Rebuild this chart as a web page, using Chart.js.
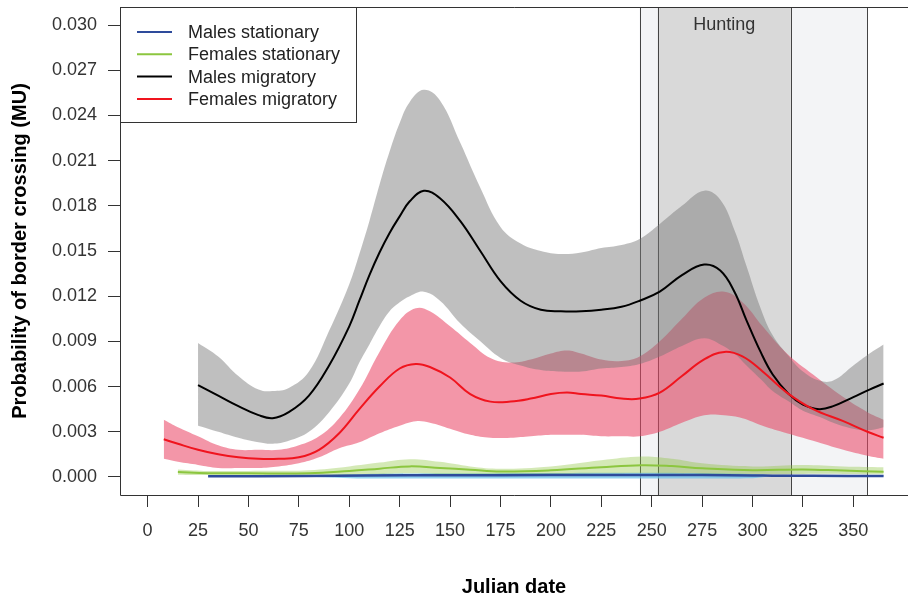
<!DOCTYPE html>
<html><head><meta charset="utf-8">
<script src="https://cdn.jsdelivr.net/npm/chart.js@4.4.1/dist/chart.umd.min.js"></script>
<style>html,body{margin:0;padding:0;background:#fff;overflow:hidden}#wrap{width:908px;height:600px}</style>
</head><body><div id="wrap"><canvas id="c" width="908" height="600"></canvas></div>
<script>
// ---- tick labels / annotations ----
const xTicks = [0,25,50,75,100,125,150,175,200,225,250,275,300,325,350];
const yTicks = [0,0.003,0.006,0.009,0.012,0.015,0.018,0.021,0.024,0.027,0.030];
const huntingDays = [244,253,319,357];
const huntingLabel = 'Hunting';
const xTitle = 'Julian date';
const yTitle = 'Probability of border crossing (MU)';
const seriesNames = ['Males stationary','Females stationary','Males migratory','Females migratory'];

// ---- Males migratory ----
const mmDays  = [25,35,45,55,62,70,80,90,100,105,110,115,120,125,130,137,145,155,165,175,185,195,205,215,225,235,244,254,265,276,284,291,297,304,310,318,325,333,340,350,358,365];
const mmFit   = [0.0061,0.0054,0.0047,0.0041,0.0039,0.0043,0.0054,0.0074,0.0100,0.0117,0.0134,0.0149,0.0162,0.0173,0.0183,0.0190,0.0185,0.0170,0.0150,0.0130,0.0117,0.0111,0.0110,0.0110,0.0111,0.0113,0.0117,0.0123,0.0134,0.0141,0.0137,0.0123,0.0104,0.0083,0.0068,0.0055,0.0048,0.0045,0.0047,0.0053,0.0058,0.0062];
const mmUpper = [0.0089,0.0080,0.0067,0.0058,0.0057,0.0059,0.0070,0.0097,0.0128,0.0148,0.0170,0.0194,0.0216,0.0235,0.0249,0.0257,0.0250,0.0222,0.0192,0.0166,0.0155,0.0150,0.0148,0.0149,0.0152,0.0154,0.0158,0.0168,0.0180,0.0190,0.0184,0.0164,0.0140,0.0112,0.0094,0.0080,0.0070,0.0064,0.0064,0.0074,0.0082,0.0088];
const mmLower = [0.0034,0.0030,0.0026,0.0023,0.0022,0.0024,0.0030,0.0043,0.0062,0.0076,0.0088,0.0100,0.0110,0.0116,0.0120,0.0123,0.0117,0.0102,0.0090,0.0079,0.0074,0.0071,0.0070,0.0070,0.0072,0.0073,0.0075,0.0080,0.0087,0.0092,0.0088,0.0082,0.0074,0.0065,0.0057,0.0050,0.0044,0.0040,0.0036,0.0032,0.0031,0.0033];

// ---- Females migratory ----
const fmDays  = [8,15,25,35,45,55,65,75,85,95,105,115,125,133,140,150,160,170,180,190,200,208,215,225,235,244,254,265,276,286,295,305,317,330,345,357,365];
const fmFit   = [0.0025,0.0022,0.0018,0.0015,0.0013,0.0012,0.0012,0.0013,0.0018,0.0029,0.0045,0.0060,0.0072,0.0075,0.0073,0.0066,0.0055,0.0050,0.0050,0.0052,0.0055,0.0056,0.0055,0.0054,0.0052,0.0052,0.0056,0.0067,0.0078,0.0083,0.0080,0.0070,0.0056,0.0045,0.0037,0.0030,0.0026];
const fmUpper = [0.0038,0.0033,0.0027,0.0021,0.0018,0.0018,0.0018,0.0021,0.0027,0.0039,0.0058,0.0083,0.0104,0.0112,0.0110,0.0100,0.0089,0.0079,0.0076,0.0078,0.0082,0.0084,0.0082,0.0078,0.0077,0.0080,0.0090,0.0105,0.0119,0.0123,0.0116,0.0100,0.0082,0.0068,0.0053,0.0043,0.0038];
const fmLower = [0.0012,0.0010,0.0008,0.0006,0.0006,0.0006,0.0007,0.0009,0.0013,0.0019,0.0023,0.0029,0.0034,0.0037,0.0036,0.0032,0.0028,0.0026,0.0026,0.0027,0.0028,0.0028,0.0028,0.0027,0.0027,0.0027,0.0030,0.0036,0.0041,0.0041,0.0039,0.0034,0.0029,0.0024,0.0018,0.0014,0.0012];

// ---- Females stationary ----
const fsDays  = [15,30,50,80,100,115,130,145,160,175,200,225,245,260,275,300,325,345,365];
const fsFit   = [0.00033,0.00025,0.00024,0.00025,0.00040,0.00055,0.00070,0.00060,0.00048,0.00036,0.00044,0.00065,0.00078,0.00072,0.00058,0.00045,0.00050,0.00042,0.00035];
const fsUpper = [0.00050,0.00040,0.00040,0.00045,0.00070,0.00095,0.00118,0.00100,0.00070,0.00055,0.00070,0.00110,0.00135,0.00120,0.00090,0.00070,0.00080,0.00070,0.00065];
const fsLower = [0.00015,0.00012,0.00010,0.00010,0.00015,0.00020,0.00025,0.00020,0.00018,0.00015,0.00018,0.00022,0.00025,0.00022,0.00020,0.00018,0.00020,0.00020,0.00018];

// ---- Males stationary ----
const msDays  = [30,80,108,150,200,250,300,310,330,365];
const msFit   = [0.00004,0.00006,0.00010,0.00011,0.00012,0.00013,0.00010,0.00008,0.00007,0.00006];
const msUpper = [0.00006,0.00010,0.00020,0.00024,0.00026,0.00027,0.00020,0.00012,0.00010,0.00009];
const msLower = [0.00002,0.00000,-0.00010,-0.00010,-0.00010,-0.00010,-0.00008,0.00004,0.00004,0.00004];

// ---- styles ----
const lineColors = ['#2E4B9B','#8CC63F','#000000','#F0141E'];
const bandColors = ['rgba(110,195,235,0.75)','rgba(141,198,63,0.38)','rgba(118,118,118,0.47)','rgba(234,71,102,0.57)'];
const FONT = '"Liberation Sans", Arial, Helvetica, sans-serif';

const pts = (d, v) => d.map((x, i) => ({x: x, y: v[i]}));
const groups = [
  [msDays, msFit, msUpper, msLower],
  [fsDays, fsFit, fsUpper, fsLower],
  [mmDays, mmFit, mmUpper, mmLower],
  [fmDays, fmFit, fmUpper, fmLower]
];
const datasets = [];
const bandOrder = [2, 3, 1, 0];
bandOrder.forEach((g, k) => {
  const [d, f, u, l] = groups[g];
  datasets.push({label: seriesNames[g] + ' upper', data: pts(d, u), fill: '+1', backgroundColor: bandColors[g],
    borderWidth: 0, pointRadius: 0, tension: 0.4, order: 20 + k});
  datasets.push({label: seriesNames[g] + ' lower', data: pts(d, l), fill: false,
    borderWidth: 0, pointRadius: 0, tension: 0.4, order: 20 + k});
});
[2, 3, 1, 0].forEach((g, k) => {
  const [d, f] = groups[g];
  datasets.push({label: seriesNames[g], data: pts(d, f), fill: false, borderColor: lineColors[g],
    borderWidth: g === 0 ? 2.5 : 2, pointRadius: 0, tension: 0.4, order: 10 - k});
});

const framePlugin = {
  id: 'frame',
  beforeDatasetsDraw(chart) {
    const {ctx, chartArea: a, scales: {x}} = chart;
    const p = huntingDays.map(d => x.getPixelForValue(d));
    ctx.save();
    ctx.fillStyle = '#F3F4F6';
    ctx.fillRect(p[0], a.top, p[3] - p[0], a.bottom - a.top);
    ctx.fillStyle = '#D9D9D9';
    ctx.fillRect(p[1], a.top, p[2] - p[1], a.bottom - a.top);
    ctx.strokeStyle = '#444'; ctx.lineWidth = 1;
    p.forEach(px => { const r = Math.round(px) + 0.5; ctx.beginPath(); ctx.moveTo(r, a.top); ctx.lineTo(r, a.bottom); ctx.stroke(); });
    ctx.fillStyle = '#333'; ctx.font = '18px ' + FONT; ctx.textAlign = 'center'; ctx.textBaseline = 'alphabetic';
    ctx.fillText(huntingLabel, (p[1] + p[2]) / 2, a.top + 23);
    ctx.restore();
  },
  afterDatasetsDraw(chart) {
    const {ctx, chartArea: a} = chart;
    ctx.save();
    ctx.strokeStyle = '#333'; ctx.lineWidth = 1;
    ctx.beginPath();
    ctx.moveTo(a.right, a.top + 0.5); ctx.lineTo(a.left + 0.5, a.top + 0.5);
    ctx.lineTo(a.left + 0.5, a.bottom + 0.5); ctx.lineTo(a.right, a.bottom + 0.5);
    ctx.stroke();
    const lx = a.left + 0.5, ly = a.top + 0.5, lw = 236, lh = 115;
    ctx.fillStyle = '#fff'; ctx.fillRect(lx, ly, lw, lh);
    ctx.strokeRect(lx, ly, lw, lh);
    ctx.font = '18px ' + FONT; ctx.textAlign = 'left'; ctx.textBaseline = 'middle';
    seriesNames.forEach((name, i) => {
      const y = a.top + 25 + i * 22.3;
      ctx.strokeStyle = lineColors[i]; ctx.lineWidth = 2;
      ctx.beginPath(); ctx.moveTo(a.left + 17, y); ctx.lineTo(a.left + 52, y); ctx.stroke();
      ctx.fillStyle = '#222'; ctx.fillText(name, a.left + 68, y + 1);
    });
    ctx.restore();
  }
};

new Chart(document.getElementById('c'), {
  type: 'line',
  data: {datasets},
  options: {
    responsive: false, animation: false, devicePixelRatio: 1,
    layout: {padding: {top: 7, right: 0, left: 0, bottom: 0}},
    plugins: {legend: {display: false}, tooltip: {enabled: false}, filler: {propagate: false}},
    scales: {
      x: {
        type: 'linear', min: -13.7, max: 377.1,
        afterBuildTicks: s => { s.ticks = xTicks.map(v => ({value: v})); },
        afterFit: s => { s.height = 105; s.paddingLeft = 0; s.paddingRight = 0; },
        grid: {drawOnChartArea: false, drawTicks: true, tickLength: 12, color: '#333'},
        border: {display: false},
        ticks: {font: {size: 18, family: FONT}, color: '#333', padding: 13, maxRotation: 0, autoSkip: false,
          callback: v => String(v)},
        title: {display: true, text: xTitle, font: {size: 20, weight: 'bold', family: FONT}, color: '#000', padding: {top: 0, bottom: 1}}
      },
      y: {
        type: 'linear', min: -0.0012, max: 0.0312,
        afterBuildTicks: s => { s.ticks = yTicks.map(v => ({value: v})); },
        afterFit: s => { s.width = 120; s.paddingTop = 0; s.paddingBottom = 0; },
        grid: {drawOnChartArea: false, drawTicks: true, tickLength: 12, color: '#333'},
        border: {display: false},
        ticks: {font: {size: 18, family: FONT}, color: '#333', padding: 11, autoSkip: false,
          callback: v => Number(v).toFixed(3)},
        title: {display: true, text: yTitle, font: {size: 20, weight: 'bold', family: FONT}, color: '#000', padding: {top: 8, bottom: 0}}
      }
    }
  },
  plugins: [framePlugin]
});
</script></body></html>
